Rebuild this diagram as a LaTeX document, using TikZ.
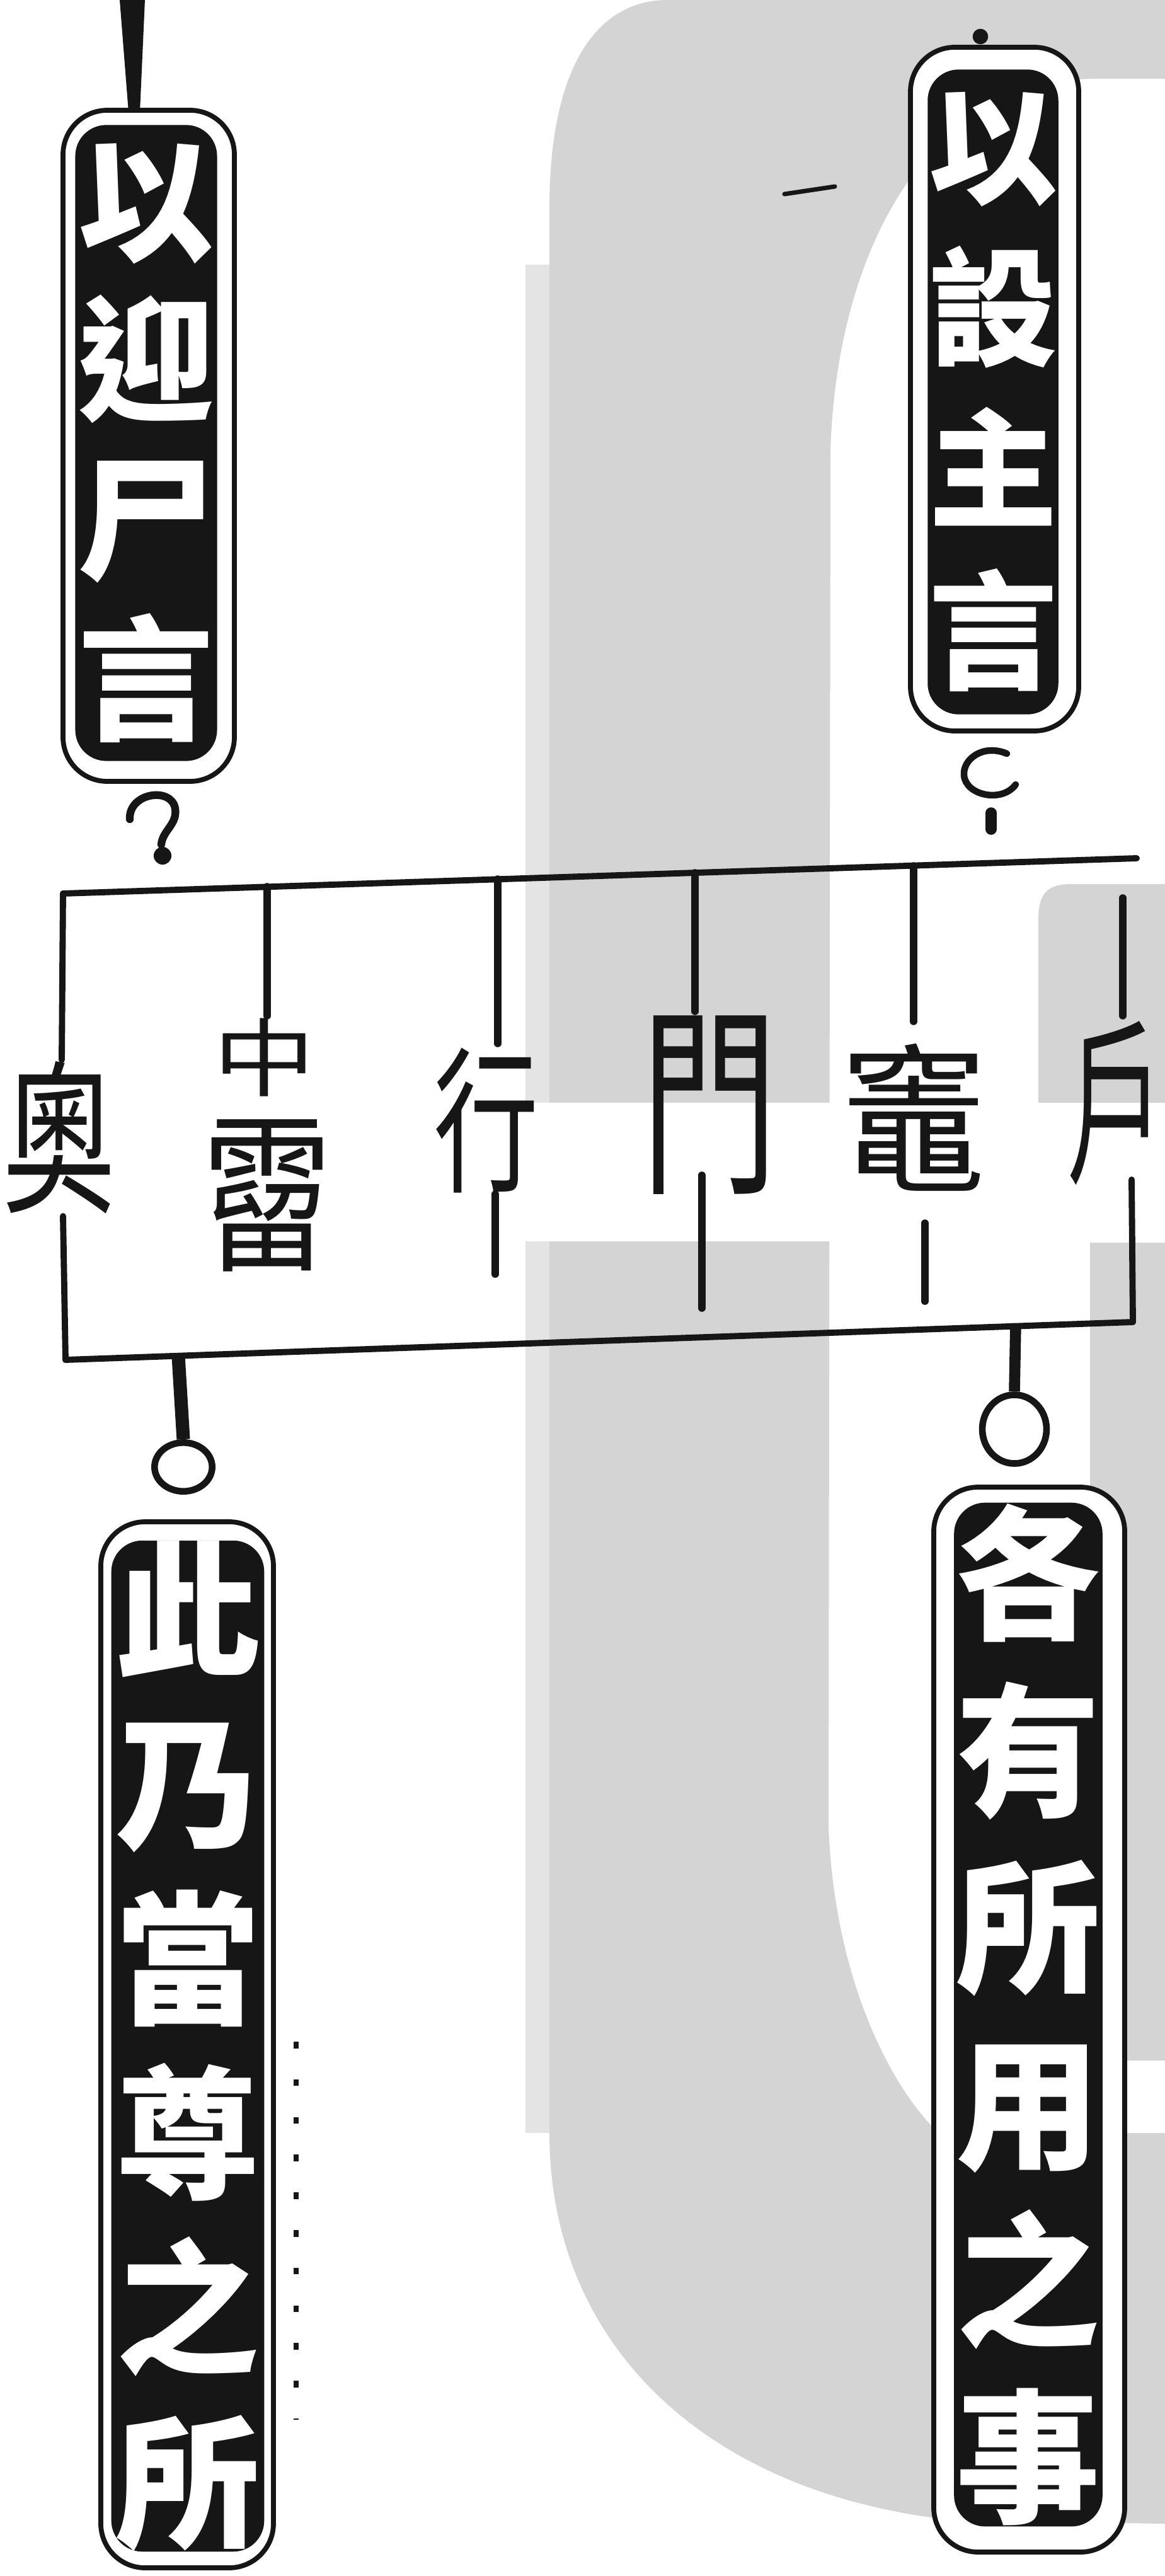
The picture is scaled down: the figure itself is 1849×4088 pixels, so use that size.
\documentclass[tikz,border=0pt]{standalone}
\usepackage{fontspec}
\newfontfamily\cjk{Noto Sans CJK TC}
\usetikzlibrary{calc,shapes.geometric}
\definecolor{wm}{RGB}{212,212,212}
\definecolor{wmlight}{RGB}{228,228,228}
\definecolor{ink}{RGB}{22,22,22}
\newcommand\mylab[3]{\scalebox{#1}[#2]{#3}}
\begin{document}
\begin{tikzpicture}[x=0.01cm,y=-0.01cm,
  frame/.style={draw=ink,line width=2.8pt,line cap=round,line join=round},
  divider/.style={draw=ink,line width=3.3pt,line cap=round},
  tagout/.style={draw=ink,fill=white,line width=2.2pt,rounded corners=20pt},
  tagbox/.style={fill=ink,text=white,rounded corners=14pt,inner sep=0pt,align=center},
  lbl/.style={text=ink,inner sep=0pt,font=\cjk\fontsize{60pt}{60pt}\selectfont},
  ringnode/.style={draw=ink,line width=3pt,ellipse,inner sep=0pt},
]
\useasboundingbox (0,0) rectangle (1849,4088);
\fill[white] (0,0) rectangle (1849,4088);

% --- grey watermark ---
\fill[wmlight] (834,420) rectangle (884,3385);
\fill[wm,even odd rule]
  (872,3385) -- (872,330) .. controls (872,110) and (945,0) .. (1060,0)
  -- (1849,0) -- (1849,4005) -- (1520,4000)
  .. controls (1120,3960) and (872,3720) .. (872,3385) -- cycle
  (1849,125) -- (1740,125) .. controls (1460,125) and (1325,420) .. (1318,720)
  -- (1315,2900) .. controls (1325,3150) and (1420,3320) .. (1490,3385)
  -- (1849,3385) -- cycle;
\fill[white] (820,1750) rectangle (1849,1970);
\fill[wm] (1648,1750) -- (1648,1460) .. controls (1648,1420) and (1660,1403) .. (1700,1403)
  -- (1849,1403) -- (1849,1750) -- cycle;
\fill[wm] (1730,1972) rectangle (1849,3270);

% --- frame corners ---
\coordinate (TLc) at (100,1418);
\coordinate (TRc) at (1804,1362);
\coordinate (BLc) at (104,2158);
\coordinate (BRc) at (1798,2098);

% --- labels ---
\node (ao)    [lbl] at (94,1805)   {\mylab{0.85}{1.24}{奧}};
\node (zhong) [lbl] at (420,1678)  {\mylab{0.77}{0.64}{中}};
\node (liu)   [lbl] at (424,1897)  {\mylab{0.98}{1.28}{霤}};
\node (xing)  [lbl] at (772,1778)  {\mylab{0.79}{1.18}{行}};
\node (men)   [lbl] at (1126,1754) {\mylab{1.03}{1.54}{門}};
\node (zao)   [lbl] at (1451,1773) {\mylab{1.10}{1.23}{竈}};
\node (hu)    [lbl] at (1770,1751) {\mylab{0.73}{1.34}{戶}};

% --- frame ---
\draw[frame] (TLc) -- (TRc);
\draw[frame] (BLc) -- (BRc);
\draw[frame] (TLc) -- (98,1682);
\draw[frame] (100,1930) -- (BLc);
\draw[frame] (1796,1872) -- (BRc);
\draw[divider] (1782,1425) -- (1782,1612);
\draw[divider] (424,1407) -- (424,1612);
\draw[divider] (790,1395) -- (790,1656);
\draw[divider] (786,1895) -- (786,2022);
\draw[divider] (1103,1385) -- (1103,1605);
\draw[divider] (1114,1865) -- (1114,2076);
\draw[divider] (1450,1374) -- (1450,1621);
\draw[divider] (1468,1941) -- (1468,2065);

% --- top-left tag ---
\draw[tagout] (100,175) rectangle (372,1240);
\node (tTL) [tagbox, minimum width=64pt, minimum height=287pt,
  font=\cjk\bfseries\fontsize{61pt}{72pt}\selectfont] at (232,703) {以\\迎\\尸\\言};
\fill[ink] (190,0) -- (230,0) -- (222,178) -- (204,178) -- cycle;
\draw[ink,line width=3.5pt,line cap=round]
  (206,1300) .. controls (204,1258) and (272,1248) .. (278,1283)
  .. controls (282,1308) and (258,1318) .. (256,1340);
\fill[ink] (258,1358) circle[radius=4pt];

% --- top-right tag ---
\draw[tagout] (1445,75) rectangle (1712,1160);
\node (tTR) [tagbox, minimum width=59pt, minimum height=291pt,
  font=\cjk\bfseries\fontsize{58pt}{73pt}\selectfont] at (1576,622) {以\\設\\主\\言};
\fill[ink] (1556,58) circle[radius=3.5pt];
\draw[ink,line width=3pt,line cap=round]
  (1598,1196) .. controls (1560,1180) and (1528,1205) .. (1530,1230)
  .. controls (1532,1262) and (1590,1275) .. (1612,1245);
\draw[ink,line width=5pt,line cap=round] (1573,1290) -- (1573,1316);

% --- bottom-left tag ---
\node (rBL) [ringnode, minimum width=26pt, minimum height=22pt] at (291,2328) {};
\draw[ink,line width=6pt] (283,2152) -- (rBL.north);
\draw[tagout] (160,2415) rectangle (434,4075);
\node (tBL) [tagbox, minimum width=69pt, minimum height=456pt,
  font=\cjk\bfseries\fontsize{65pt}{78.8pt}\selectfont] at (298,3247) {此\\乃\\當\\尊\\之\\所};
\draw[ink,line width=2pt,dash pattern=on 3pt off 14pt] (470,3240) -- (470,3840);

% --- bottom-right tag ---
\node (rBR) [ringnode, minimum width=29pt, minimum height=31pt] at (1610,2268) {};
\draw[ink,line width=5pt] (1612,2100) -- (rBR.north);
\draw[tagout] (1482,2360) rectangle (1785,4050);
\node (tBR) [tagbox, minimum width=67pt, minimum height=462pt,
  font=\cjk\bfseries\fontsize{65pt}{79.7pt}\selectfont] at (1632,3197) {各\\有\\所\\用\\之\\事};

% stray mark
\draw[ink,line width=2pt,line cap=round] (1245,308) -- (1325,296);
\end{tikzpicture}
\end{document}
